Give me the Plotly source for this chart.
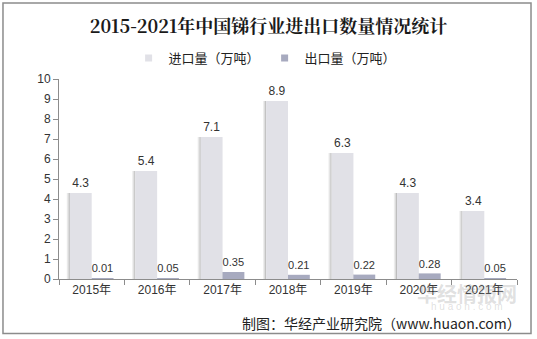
import plotly.graph_objects as go

years = ["2015年", "2016年", "2017年", "2018年", "2019年", "2020年", "2021年"]
imports = [4.3, 5.4, 7.1, 8.9, 6.3, 4.3, 3.4]
exports = [0.01, 0.05, 0.35, 0.21, 0.22, 0.28, 0.05]
y_ticks = list(range(0, 11))

FONT = "Liberation Sans, Arial, Noto Sans CJK SC, sans-serif"
IMPORT_COLOR = "#e1e1e7"
EXPORT_COLOR = "#a7aabf"

fig = go.Figure()

fig.add_trace(go.Bar(
    name="进口量（万吨）", x=years, y=imports, showlegend=False,
    marker=dict(color=IMPORT_COLOR, line=dict(width=0)),
    text=[f"{v:g}" for v in imports], textposition="outside",
    textfont=dict(size=12, color="#333333"), cliponaxis=False,
))
fig.add_trace(go.Bar(
    name="出口量（万吨）", x=years, y=exports, showlegend=False,
    marker=dict(color=EXPORT_COLOR, line=dict(width=0)),
    text=[f"{v:g}" for v in exports], textposition="outside",
    textfont=dict(size=12, color="#333333"), cliponaxis=False,
))

# small square legend keys
for name, color in (("进口量（万吨）", IMPORT_COLOR), ("出口量（万吨）", EXPORT_COLOR)):
    fig.add_trace(go.Scatter(
        name=name, x=[None], y=[None], mode="markers",
        marker=dict(symbol="square", size=7, color=color),
    ))

# soft drop shadow along the left edge of each bar
shapes = []
half = 1 / 3
for i, (vi, ve) in enumerate(zip(imports, exports)):
    for left, val in ((i - half, vi), (i, ve)):
        for k, op in enumerate((0.45, 0.25, 0.12)):
            shapes.append(dict(
                type="rect", layer="below", xref="x", yref="y",
                x0=left - 0.016 * (k + 1), x1=left - 0.016 * k,
                y0=0, y1=val, fillcolor="#6e6e6e", opacity=op, line=dict(width=0),
            ))

# outer frame
shapes.append(dict(
    type="rect", xref="paper", yref="paper",
    x0=-0.1223, x1=1.0306, y0=-0.272, y1=1.38,
    line=dict(color="#8c8c8c", width=1.5), fillcolor="rgba(0,0,0,0)",
))

fig.update_layout(
    width=537, height=339,
    margin=dict(l=59, r=20, t=79, b=60),
    paper_bgcolor="white", plot_bgcolor="white",
    barmode="group", bargap=1 / 3, bargroupgap=0,
    font=dict(family=FONT, color="#333333"),
    title=dict(
        text="<b>2015-2021年中国锑行业进出口数量情况统计</b>",
        x=0.5, xanchor="center", y=1 - 27 / 339, yanchor="middle",
        font=dict(family="Noto Serif CJK SC, Noto Sans CJK SC, serif", size=18, color="#1a1a1a"),
    ),
    legend=dict(
        orientation="h", x=0.45, xanchor="center", y=1.105, yanchor="middle",
        font=dict(family="Noto Sans CJK SC, sans-serif", size=13, color="#222222"),
        itemwidth=30, traceorder="normal", bgcolor="rgba(0,0,0,0)",
    ),
    xaxis=dict(
        type="category", showline=True, linecolor="#8c8c8c", linewidth=1,
        ticks="outside", tickson="boundaries", ticklen=5, tickcolor="#8c8c8c",
        tickfont=dict(size=12, color="#333333"), showgrid=False,
    ),
    yaxis=dict(
        range=[0, 10], tickvals=y_ticks, showline=True, linecolor="#8c8c8c", linewidth=1,
        ticks="outside", ticklen=5, tickcolor="#8c8c8c", showgrid=False, zeroline=False,
        tickfont=dict(size=12, color="#333333"),
    ),
    shapes=shapes,
    annotations=[
        dict(text="制图：华经产业研究院（www.huaon.com）", xref="paper", yref="paper",
             x=1.013, y=-0.22, xanchor="right", yanchor="middle", showarrow=False,
             font=dict(family="Noto Sans CJK SC, Liberation Sans, sans-serif", size=14, color="#222222")),
        dict(text="<b>华经情报网</b>", xref="paper", yref="paper",
             x=0.89, y=-0.07, xanchor="center", yanchor="middle", showarrow=False,
             font=dict(family="Noto Sans CJK SC, sans-serif", size=20, color="rgba(150,150,150,0.3)")),
        dict(text="h u a o n . c o m", xref="paper", yref="paper",
             x=0.89, y=-0.135, xanchor="center", yanchor="middle", showarrow=False,
             font=dict(size=10, color="rgba(150,150,150,0.3)")),
    ],
)

fig.write_html("out.html")
